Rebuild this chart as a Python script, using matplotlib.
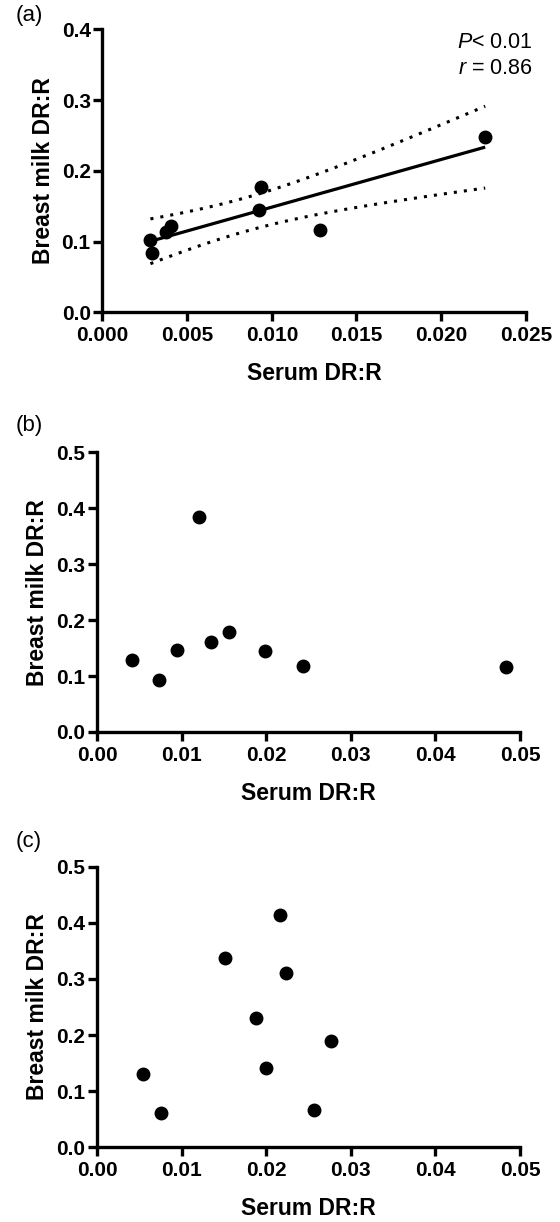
import numpy as np
import matplotlib
matplotlib.use('Agg')
import matplotlib.pyplot as plt


# panel (a): serum vs breast milk DR:R, with regression
a_serum = [0.00283, 0.00293, 0.00373, 0.00405, 0.00922, 0.00937, 0.01285, 0.0226]
a_milk  = [0.1025, 0.0836, 0.1133, 0.1218, 0.144, 0.177, 0.1157, 0.248]

# panel (b)
b_serum = [0.0041, 0.0073, 0.00946, 0.0120, 0.01347, 0.01563, 0.01985, 0.02433, 0.0483]
b_milk  = [0.1278, 0.0922, 0.1474, 0.3835, 0.1611, 0.1784, 0.1439, 0.1183, 0.1159]

# panel (c)
c_serum = [0.0054, 0.00756, 0.01508, 0.01876, 0.02003, 0.02162, 0.02238, 0.02568, 0.02763]
c_milk  = [0.1306, 0.0618, 0.3379, 0.2298, 0.1419, 0.4133, 0.3106, 0.0665, 0.19]

a_xticks = [0.000, 0.005, 0.010, 0.015, 0.020, 0.025]
a_yticks = [0.0, 0.1, 0.2, 0.3, 0.4]
bc_xticks = [0.00, 0.01, 0.02, 0.03, 0.04, 0.05]
bc_yticks = [0.0, 0.1, 0.2, 0.3, 0.4, 0.5]

stats_text = ['$\\mathit{P}$< 0.01', '$\\mathit{r}$ = 0.86']

plt.rcParams['font.family'] = ['Liberation Sans', 'DejaVu Sans']
plt.rcParams['mathtext.fontset'] = 'custom'
plt.rcParams['mathtext.rm'] = 'Liberation Sans'
plt.rcParams['mathtext.it'] = 'Liberation Sans:italic'


def style_axes(ax, xticks, yticks, xfmt):
    for s in ['top', 'right']:
        ax.spines[s].set_visible(False)
    for s in ['left', 'bottom']:
        ax.spines[s].set_linewidth(2.4)
    ax.set_xlim(xticks[0], xticks[-1])
    ax.set_ylim(yticks[0], yticks[-1])
    ax.set_xticks(xticks)
    ax.set_yticks(yticks)
    ax.set_xticklabels([xfmt % t for t in xticks])
    ax.set_yticklabels(['%.1f' % t for t in yticks])
    ax.tick_params(direction='out', length=6.5, width=2.4, labelsize=15)
    ax.tick_params(axis='x', pad=3.5)
    ax.tick_params(axis='y', pad=2)
    for lab in ax.get_xticklabels() + ax.get_yticklabels():
        lab.set_fontweight('bold')
    ax.set_xlabel('Serum DR:R', fontsize=16.5, fontweight='bold', labelpad=12)
    ax.set_ylabel('Breast milk DR:R', fontsize=16.5, fontweight='bold', labelpad=5)


fig = plt.figure(figsize=(5.6, 12.22), dpi=100)

ax_a = fig.add_axes([0.183, 0.7444, 0.756, 0.2316])
ax_b = fig.add_axes([0.1732, 0.401, 0.7554, 0.2289])
ax_c = fig.add_axes([0.1732, 0.0611, 0.7554, 0.2297])

# (a) data + linear fit with 95% confidence band
xa = np.array(a_serum)
ya = np.array(a_milk)
n = len(xa)
slope, intercept = np.polyfit(xa, ya, 1)
resid = ya - (slope * xa + intercept)
s = np.sqrt(np.sum(resid ** 2) / (n - 2))
sxx = np.sum((xa - xa.mean()) ** 2)
t_crit = 2.447  # t(0.975, df=6)
xf = np.linspace(xa.min(), xa.max(), 100)
yf = slope * xf + intercept
half = t_crit * s * np.sqrt(1.0 / n + (xf - xa.mean()) ** 2 / sxx)

ax_a.plot(xf, yf, color='black', lw=2.3, solid_capstyle='butt')
ax_a.plot(xf, yf + half, color='black', lw=2.2, linestyle=(0, (1, 2.3)))
ax_a.plot(xf, yf - half, color='black', lw=2.2, linestyle=(0, (1, 2.3)))
ax_a.plot(a_serum, a_milk, 'o', color='black', ms=9, clip_on=False, zorder=3)
style_axes(ax_a, a_xticks, a_yticks, '%.3f')
ax_a.text(1.017, 0.955, stats_text[0], transform=ax_a.transAxes, ha='right',
          va='center', fontsize=15.5)
ax_a.text(1.017, 0.863, stats_text[1], transform=ax_a.transAxes, ha='right',
          va='center', fontsize=15.5)

ax_b.plot(b_serum, b_milk, 'o', color='black', ms=9, clip_on=False, zorder=3)
style_axes(ax_b, bc_xticks, bc_yticks, '%.2f')

ax_c.plot(c_serum, c_milk, 'o', color='black', ms=9, clip_on=False, zorder=3)
style_axes(ax_c, bc_xticks, bc_yticks, '%.2f')

fig.text(29 / 560, 1 - 16 / 1222, '(a)', ha='center', va='center', fontsize=16)
fig.text(29 / 560, 1 - 425 / 1222, '(b)', ha='center', va='center', fontsize=16)
fig.text(29 / 560, 1 - 842 / 1222, '(c)', ha='center', va='center', fontsize=16)

fig.savefig('out.png', dpi=100)
